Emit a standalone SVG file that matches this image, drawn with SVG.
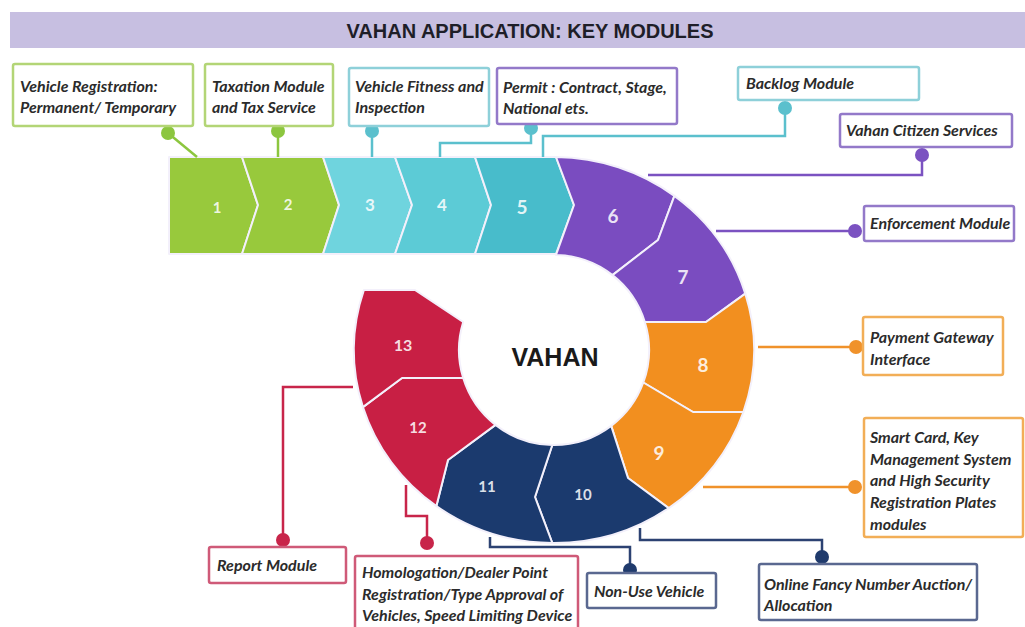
<svg xmlns="http://www.w3.org/2000/svg" width="1025" height="627" viewBox="0 0 1025 627">
  <style>
    .title { font-family: "Liberation Sans", Arial, sans-serif; font-weight: 700; font-size: 20px; fill: #1e1e28; }
    .seg { stroke: #f3f0fb; stroke-width: 2; stroke-linejoin: round; }
    .num { font-family: "Lato", "Liberation Sans", sans-serif; font-weight: 700; fill: #ffffff; fill-opacity: 0.85; text-anchor: middle; }
    .box { fill: #ffffff; stroke-width: 2.5; }
    .lbl { font-family: "Lato", "Liberation Sans", sans-serif; font-style: italic; font-weight: 700; font-size: 16px; fill: #2b2b2b; }
    .wire { fill: none; stroke-width: 2.5; stroke-linejoin: miter; }
    .green { fill: #98c93c; }
    .c3 { fill: #6fd4de; }
    .c4 { fill: #5ccbd6; }
    .c5 { fill: #48bccb; }
    .purple { fill: #7a4cc0; }
    .orange { fill: #f28f1f; }
    .navy { fill: #1b3a6e; }
    .red { fill: #c81f44; }
    .b-green { stroke: #b3d576; }
    .b-cyan { stroke: #8ed0d9; }
    .b-purple { stroke: #9379c9; }
    .b-orange { stroke: #f2ae57; }
    .b-navy { stroke: #5a6890; }
    .b-red { stroke: #cf5a78; }
    .w-green { stroke: #8cc63f; }
    .w-cyan { stroke: #5bc0cd; }
    .w-purple { stroke: #7b52c1; }
    .w-orange { stroke: #f0922b; }
    .w-navy { stroke: #2c4272; }
    .w-red { stroke: #c8254a; }
    .d-green { fill: #8cc63f; }
    .d-cyan { fill: #5bc0cd; }
    .d-purple { fill: #7b52c1; }
    .d-orange { fill: #f0922b; }
    .d-navy { fill: #1f3a6c; }
    .d-red { fill: #c8254a; }
  </style>

  <rect width="1025" height="627" fill="#ffffff"/>

  <!-- heading bar -->
  <g id="title">
    <rect x="10" y="12" width="1015" height="36" fill="#c7bfe1"/>
    <text class="title" x="530" y="38" text-anchor="middle">VAHAN APPLICATION: KEY MODULES</text>
  </g>

  <!-- straight run of chevrons 1-5 -->
  <g id="seg-1">
    <path class="seg green" d="M169,157 L242,157 L258,205 L242,254 L169,254 Z"/>
    <text class="num" x="217" y="213" font-size="15">1</text>
  </g>
  <g id="seg-2">
    <path class="seg green" d="M242,157 L323,157 L339,205 L323,254 L242,254 L258,205 Z"/>
    <text class="num" x="288" y="210" font-size="15">2</text>
  </g>
  <g id="seg-3">
    <path class="seg c3" d="M323,157 L395,157 L412,205 L395,254 L323,254 L339,205 Z"/>
    <text class="num" x="370" y="211" font-size="17">3</text>
  </g>
  <g id="seg-4">
    <path class="seg c4" d="M395,157 L475,157 L491,205 L475,254 L395,254 L412,205 Z"/>
    <text class="num" x="442" y="211" font-size="17">4</text>
  </g>
  <g id="seg-5">
    <path class="seg c5" d="M475,157 L556,157 L574,205 L556,254 L475,254 L491,205 Z"/>
    <text class="num" x="522" y="214" font-size="19">5</text>
  </g>

  <!-- ring segments 6-13 around the hub -->
  <g id="seg-6">
    <path class="seg purple" d="M556,157 A200,193 0 0 1 674.4,195.9 L658,240 L612.5,275.1 A95,95 0 0 0 556,255 L574,205 Z"/>
    <text class="num" x="613" y="223" font-size="19">6</text>
  </g>
  <g id="seg-7">
    <path class="seg purple" d="M674.4,195.9 A200,193 0 0 1 745.3,293.6 L706,322 L644.8,322 A95,95 0 0 0 612.5,275.1 L658,240 Z"/>
    <text class="num" x="683" y="284" font-size="19">7</text>
  </g>
  <g id="seg-8">
    <path class="seg orange" d="M745.3,293.6 A200,193 0 0 1 743.4,412 L693,412 L643.3,382.5 A95,95 0 0 0 644.8,322 L706,322 Z"/>
    <text class="num" x="703" y="372" font-size="19">8</text>
  </g>
  <g id="seg-9">
    <path class="seg orange" d="M743.4,412 A200,193 0 0 1 668.7,508.1 L628,478 L611.2,425.9 A95,95 0 0 0 643.3,382.5 L693,412 Z"/>
    <text class="num" x="659" y="460" font-size="19">9</text>
  </g>
  <g id="seg-10">
    <path class="seg navy" d="M668.7,508.1 A200,193 0 0 1 552.3,543 L535,497 L552.3,445 A95,95 0 0 0 611.2,425.9 L628,478 Z"/>
    <text class="num" x="583" y="500" font-size="15">10</text>
  </g>
  <g id="seg-11">
    <path class="seg navy" d="M552.3,543 A200,193 0 0 1 436.4,506.1 L448,460 L495.5,424.9 A95,95 0 0 0 552.3,445 L535,497 Z"/>
    <text class="num" x="487" y="492" font-size="15">11</text>
  </g>
  <g id="seg-12">
    <path class="seg red" d="M436.4,506.1 A200,193 0 0 1 362.9,407.1 L402,378 L463.2,378 A95,95 0 0 0 495.5,424.9 L448,460 Z"/>
    <text class="num" x="418" y="433" font-size="15">12</text>
  </g>
  <g id="seg-13">
    <path class="seg red" d="M362.9,407.1 A200,193 0 0 1 363.9,290 L415,290 L463.2,322 A95,95 0 0 0 463.2,378 L402,378 Z"/>
    <text class="num" x="403" y="351" font-size="16">13</text>
  </g>

  <!-- hub -->
  <g id="hub">
    <text x="555" y="366" text-anchor="middle" font-family="Liberation Sans, Arial, sans-serif" font-weight="700" font-size="25" fill="#1a1a1a">VAHAN</text>
  </g>

  <!-- leader lines and end dots -->
  <g id="connectors">
    <path class="wire w-green" d="M168,133 L197,157"/>
    <path class="wire w-green" d="M278,131 L278,157"/>
    <path class="wire w-cyan" d="M372,131 L372,157"/>
    <path class="wire w-cyan" d="M531,128 L531,143 L440,143 L440,157"/>
    <path class="wire w-cyan" d="M785,108 L785,136 L543,136 L543,157"/>
    <path class="wire w-purple" d="M922,155 L922,175 L648,175"/>
    <path class="wire w-purple" d="M855,231 L716,231"/>
    <path class="wire w-orange" d="M856,347 L758,347"/>
    <path class="wire w-orange" d="M855,487 L703,487"/>
    <path class="wire w-navy" d="M822,557 L822,540 L640,540 L640,528"/>
    <path class="wire w-navy" d="M630,570 L630,547 L490,547 L490,537"/>
    <path class="wire w-red" d="M427,543 L427,516 L406,516 L406,485"/>
    <path class="wire w-red" d="M283,540 L283,387 L353,387"/>

    <circle class="d-green" cx="168" cy="133" r="7"/>
    <circle class="d-green" cx="278" cy="131" r="7"/>
    <circle class="d-cyan" cx="372" cy="131" r="7"/>
    <circle class="d-cyan" cx="531" cy="128" r="7"/>
    <circle class="d-cyan" cx="785" cy="108" r="7"/>
    <circle class="d-purple" cx="922" cy="155" r="7"/>
    <circle class="d-purple" cx="855" cy="231" r="7"/>
    <circle class="d-orange" cx="856" cy="347" r="7"/>
    <circle class="d-orange" cx="855" cy="487" r="7"/>
    <circle class="d-navy" cx="822" cy="557" r="7"/>
    <circle class="d-navy" cx="630" cy="570" r="7"/>
    <circle class="d-red" cx="427" cy="543" r="7"/>
    <circle class="d-red" cx="283" cy="540" r="7"/>
  </g>

  <!-- module labels -->
  <g id="label-1">
    <rect class="box b-green" x="13" y="64" width="180" height="62" rx="2"/>
    <text class="lbl" x="20" y="92">Vehicle Registration:</text>
    <text class="lbl" x="20" y="113">Permanent/ Temporary</text>
  </g>
  <g id="label-2">
    <rect class="box b-green" x="205" y="64" width="128" height="62" rx="2"/>
    <text class="lbl" x="212" y="92">Taxation Module</text>
    <text class="lbl" x="212" y="113">and Tax Service</text>
  </g>
  <g id="label-3">
    <rect class="box b-cyan" x="349" y="68" width="140" height="58" rx="2"/>
    <text class="lbl" x="355" y="92">Vehicle Fitness and</text>
    <text class="lbl" x="355" y="113">Inspection</text>
  </g>
  <g id="label-4">
    <rect class="box b-purple" x="497" y="68" width="180" height="56" rx="2"/>
    <text class="lbl" x="503" y="93">Permit : Contract, Stage,</text>
    <text class="lbl" x="503" y="114">National ets.</text>
  </g>
  <g id="label-5">
    <rect class="box b-cyan" x="738" y="67" width="181" height="33" rx="2"/>
    <text class="lbl" x="746" y="89">Backlog Module</text>
  </g>
  <g id="label-6">
    <rect class="box b-purple" x="840" y="114" width="172" height="33" rx="2"/>
    <text class="lbl" x="846" y="136">Vahan Citizen Services</text>
  </g>
  <g id="label-7">
    <rect class="box b-purple" x="864" y="206" width="150" height="35" rx="2"/>
    <text class="lbl" x="870" y="229">Enforcement Module</text>
  </g>
  <g id="label-8">
    <rect class="box b-orange" x="863" y="317" width="140" height="58" rx="2"/>
    <text class="lbl" x="870" y="343">Payment Gateway</text>
    <text class="lbl" x="870" y="365">Interface</text>
  </g>
  <g id="label-9">
    <rect class="box b-orange" x="864" y="418" width="159" height="119" rx="2"/>
    <text class="lbl" x="870" y="443">Smart Card, Key</text>
    <text class="lbl" x="870" y="465">Management System</text>
    <text class="lbl" x="870" y="486">and High Security</text>
    <text class="lbl" x="870" y="508">Registration Plates</text>
    <text class="lbl" x="870" y="530">modules</text>
  </g>
  <g id="label-10">
    <rect class="box b-navy" x="759" y="564" width="218" height="56" rx="2"/>
    <text class="lbl" x="764" y="590">Online Fancy Number Auction/</text>
    <text class="lbl" x="764" y="611">Allocation</text>
  </g>
  <g id="label-11">
    <rect class="box b-navy" x="587" y="573" width="129" height="35" rx="2"/>
    <text class="lbl" x="594" y="597">Non-Use Vehicle</text>
  </g>
  <g id="label-12">
    <rect class="box b-red" x="355" y="556" width="223" height="80" rx="2"/>
    <text class="lbl" x="362" y="578">Homologation/Dealer Point</text>
    <text class="lbl" x="362" y="600">Registration/Type Approval of</text>
    <text class="lbl" x="362" y="621">Vehicles, Speed Limiting Device</text>
  </g>
  <g id="label-13">
    <rect class="box b-red" x="209" y="547" width="137" height="36" rx="2"/>
    <text class="lbl" x="217" y="571">Report Module</text>
  </g>
</svg>
